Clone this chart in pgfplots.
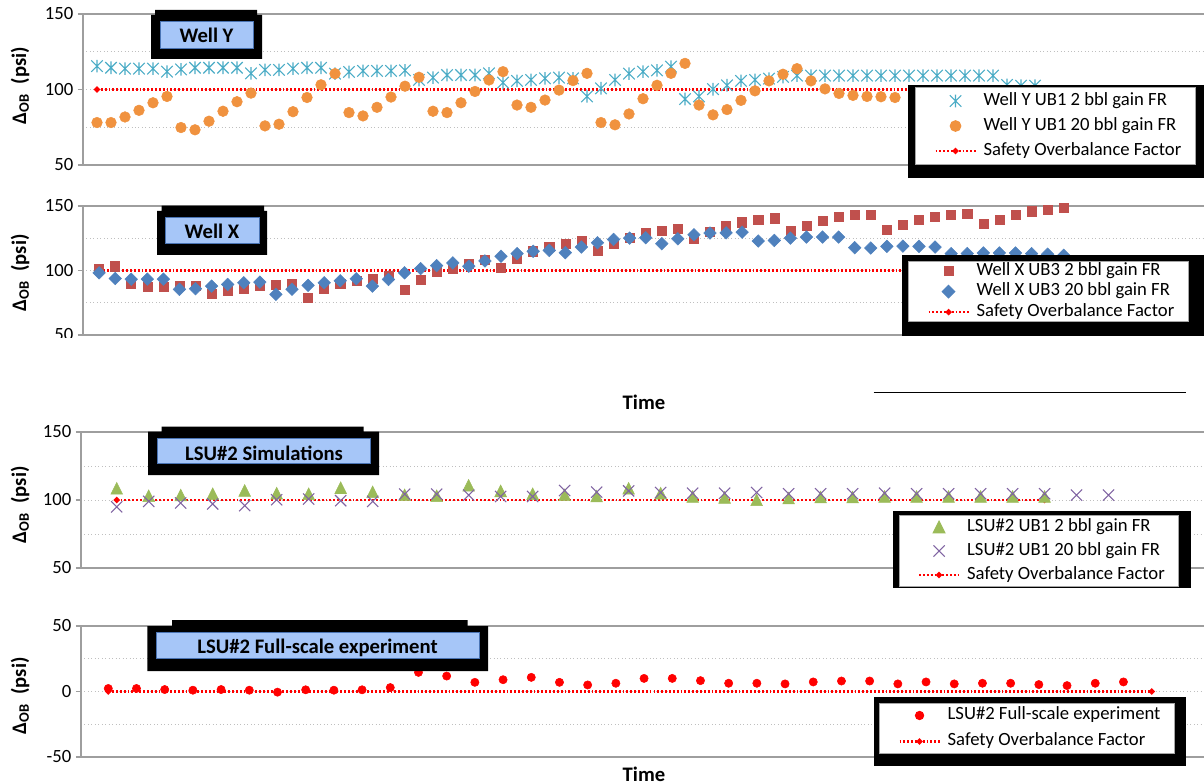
\documentclass[border=0pt]{standalone}
\usepackage{fontspec}
\setmainfont{Carlito}
\usepackage{pgfplots}
\pgfplotsset{compat=1.18}

\definecolor{cyanY}{HTML}{4BACC6}
\definecolor{orangeY}{HTML}{F0923F}
\definecolor{redX}{HTML}{C0504D}
\definecolor{blueX}{HTML}{4F81BD}
\definecolor{greenL}{HTML}{9BBB59}
\definecolor{purpleL}{HTML}{8064A2}
\definecolor{boxblue}{HTML}{A6C6F8}
\definecolor{boxedge}{HTML}{4A74B4}

% star: two diagonals and a vertical bar
\pgfdeclareplotmark{xstar}{%
  \pgfpathmoveto{\pgfqpoint{-\pgfplotmarksize}{-\pgfplotmarksize}}%
  \pgfpathlineto{\pgfqpoint{\pgfplotmarksize}{\pgfplotmarksize}}%
  \pgfpathmoveto{\pgfqpoint{-\pgfplotmarksize}{\pgfplotmarksize}}%
  \pgfpathlineto{\pgfqpoint{\pgfplotmarksize}{-\pgfplotmarksize}}%
  \pgfpathmoveto{\pgfqpoint{0pt}{-1.1\pgfplotmarksize}}%
  \pgfpathlineto{\pgfqpoint{0pt}{1.1\pgfplotmarksize}}%
  \pgfusepathqstroke}
\pgfdeclareplotmark{xcross}{%
  \pgfpathmoveto{\pgfqpoint{-\pgfplotmarksize}{-\pgfplotmarksize}}%
  \pgfpathlineto{\pgfqpoint{\pgfplotmarksize}{\pgfplotmarksize}}%
  \pgfpathmoveto{\pgfqpoint{-\pgfplotmarksize}{\pgfplotmarksize}}%
  \pgfpathlineto{\pgfqpoint{\pgfplotmarksize}{-\pgfplotmarksize}}%
  \pgfusepathqstroke}
\pgfdeclareplotmark{rhomb}{%
  \pgfpathmoveto{\pgfqpoint{0pt}{\pgfplotmarksize}}%
  \pgfpathlineto{\pgfqpoint{\pgfplotmarksize}{0pt}}%
  \pgfpathlineto{\pgfqpoint{0pt}{-\pgfplotmarksize}}%
  \pgfpathlineto{\pgfqpoint{-\pgfplotmarksize}{0pt}}%
  \pgfpathclose\pgfusepathqfillstroke}
\pgfdeclareplotmark{tri}{%
  \pgfpathmoveto{\pgfqpoint{0pt}{\pgfplotmarksize}}%
  \pgfpathlineto{\pgfqpoint{\pgfplotmarksize}{-\pgfplotmarksize}}%
  \pgfpathlineto{\pgfqpoint{-\pgfplotmarksize}{-\pgfplotmarksize}}%
  \pgfpathclose\pgfusepathqfillstroke}

\tikzset{
  safety/.style={color=red, line width=1.6pt, dash pattern=on 1.4pt off 1.5pt,
    mark=*, mark size=1.4pt, mark options={solid}},
  cyanstar/.style={only marks, mark=xstar, mark size=4.3pt, color=cyanY, line width=0.8pt},
  orangedot/.style={only marks, mark=*, mark size=4pt, color=orangeY},
  redsq/.style={only marks, mark=square*, mark size=3.4pt, color=redX},
  bluedia/.style={only marks, mark=rhomb, mark size=4.7pt, color=blueX},
  greentri/.style={only marks, mark=tri, mark size=4.4pt, color=greenL},
  purplex/.style={only marks, mark=xcross, mark size=4.2pt, color=purpleL, line width=0.8pt},
}

\newcommand\titlefont{\fontsize{15.5}{18}\selectfont\bfseries}

\pgfplotsset{
  panel/.style={
    scale only axis, anchor=south west, clip=false, clip marker paths=true,
    axis line style={draw=black!38, line width=1.1pt},
    xtick=\empty,
    ytick pos=left, tick align=outside,
    major tick length=3.75pt, minor tick length=0pt,
    tick style={draw=black!38, line width=0.9pt},
    minor y tick num=1,
    ymajorgrids, yminorgrids,
    major grid style={draw=black!25, line width=0.6pt, dotted},
    minor grid style={draw=black!25, line width=0.6pt, dotted},
    tick label style={font=\fontsize{14}{16}\selectfont},
    /pgf/number format/assume math mode=true,
    ylabel={Δ\textsubscript{OB}\ \ (psi)},
    ylabel style={font=\titlefont, anchor=center},
    legend cell align=left,
    legend style={anchor=north west, font=\fontsize{14}{16}\selectfont,
      draw=black!35, line width=0.75pt, fill=white,
      inner xsep=10.5pt, column sep=5.25pt,
      nodes={inner sep=0pt, text height=9.5pt, text depth=3pt}},
    legend image code/.code={%
      \path (-3.75pt,0pt) (30pt,0pt);
      \draw[mark repeat=2,mark phase=2,##1] plot coordinates {(0pt,0pt) (15pt,0pt) (30pt,0pt)};},
  },
}

\begin{document}
\begin{tikzpicture}
\useasboundingbox (0pt,0pt) rectangle (903pt,-588pt);

% ---------------- Well Y ----------------
\begin{axis}[panel, at={(62.25pt,-123.75pt)}, width=845.25pt, height=113.25pt,
  xmin=0, xmax=80.5, ymin=50, ymax=150, ytick={50,100,150},
  ylabel style={at={(axis description cs:-0.0559,0.526)}},
  legend style={at={(0.7382,0.5166)}, row sep=6.25pt, inner ysep=3.9pt}]
\addplot[safety, mark indices={1}, forget plot] coordinates {(1,100) (80,100)};
\addplot[cyanstar] coordinates {
 (1,115.5) (2,114.4) (3,113.8) (4,113.8) (5,113.8) (6,111.8) (7,113.3) (8,114.4)
 (9,114.4) (10,114.4) (11,114.4) (12,110.7) (13,113.0) (14,113.0) (15,113.8) (16,114.4)
 (17,114.4) (18,110.5) (19,111.6) (20,112.3) (21,112.3) (22,112.3) (23,112.7) (24,106.3)
 (25,107.9) (26,109.6) (27,109.6) (28,109.6) (29,110.7) (30,104.6) (31,105.7) (32,106.3)
 (33,107.4) (34,107.9) (35,107.4) (36,95.4) (37,100.8) (38,106.3) (39,110.5) (40,111.8)
 (41,112.7) (42,115.1) (43,93.7) (44,95.4) (45,100.2) (46,102.8) (47,105.7) (48,106.3)
 (49,107.2) (50,108.3) (51,109.2) (52,109.2) (53,109.2) (54,109.2) (55,109.2) (56,109.2)
 (57,109.2) (58,109.2) (59,109.2) (60,109.2) (61,109.2) (62,109.2) (63,109.2) (64,109.2)
 (65,109.2) (66,103.0) (67,102.5) (68,102.5)};
\addlegendentry{Well Y UB1 2 bbl gain FR}
\addplot[orangedot] coordinates {
 (1,78.1) (2,78.1) (3,81.8) (4,86.2) (5,91.2) (6,95.4) (7,74.8) (8,73.3)
 (9,79.0) (10,85.6) (11,91.9) (12,97.6) (13,75.9) (14,77.0) (15,85.3) (16,94.7)
 (17,103.1) (18,110.5) (19,84.7) (20,82.5) (21,88.2) (22,95.0) (23,102.2) (24,108.1)
 (25,85.6) (26,84.7) (27,91.2) (28,98.7) (29,106.3) (30,111.8) (31,89.7) (32,88.2)
 (33,93.0) (34,99.6) (35,105.9) (36,110.7) (37,78.1) (38,76.6) (39,83.8) (40,93.9)
 (41,102.8) (42,110.7) (43,117.3) (44,89.7) (45,83.2) (46,86.7) (47,92.8) (48,99.1)
 (49,105.7) (50,110.1) (51,113.8) (52,105.7) (53,100.4) (54,97.4) (55,96.1) (56,95.4)
 (57,95.2) (58,94.7)};
\addlegendentry{Well Y UB1 20 bbl gain FR}
\addlegendimage{safety}
\addlegendentry{Safety Overbalance Factor}
\fill[black] (rel axis cs:0.7320,-0.0861) rectangle (rel axis cs:1.01,0.5298);
\end{axis}

% ---------------- Well X ----------------
\begin{axis}[panel, at={(62.25pt,-251.25pt)}, width=845.25pt, height=96.75pt,
  xmin=0, xmax=70.1, ymin=50, ymax=150, ytick={50,100,150},
  ylabel style={at={(axis description cs:-0.0559,0.4806)}},
  legend style={at={(0.7320,0.5736)}, row sep=2.9pt, inner ysep=0.9pt}]
\addplot[safety, mark indices={1}, forget plot] coordinates {(1,100) (69,100)};
\addplot[redsq] coordinates {
 (1,101.5) (2,103.3) (3,90.0) (4,87.4) (5,87.4) (6,88.0) (7,88.0) (8,81.8)
 (9,84.4) (10,86.2) (11,88.0) (12,89.2) (13,89.5) (14,79.2) (15,86.2) (16,90.0)
 (17,92.0) (18,93.8) (19,95.6) (20,84.9) (21,93.1) (22,99.0) (23,101.5) (24,105.4)
 (25,108.0) (26,102.3) (27,109.2) (28,114.9) (29,118.7) (30,120.8) (31,122.8) (32,115.6)
 (33,120.8) (34,125.1) (35,129.0) (36,130.5) (37,132.3) (38,124.6) (39,130.3) (40,134.9)
 (41,137.4) (42,139.5) (43,140.5) (44,131.0) (45,134.9) (46,138.2) (47,141.8) (48,143.3)
 (49,143.3) (50,131.8) (51,135.4) (52,139.2) (53,141.3) (54,143.3) (55,143.8) (56,136.2)
 (57,139.2) (58,143.3) (59,145.9) (60,147.2) (61,148.5)};
\addlegendentry{Well X UB3 2 bbl gain FR}
\addplot[bluedia] coordinates {
 (1,98.2) (2,93.8) (3,93.3) (4,93.3) (5,93.3) (6,85.4) (7,85.9) (8,87.9)
 (9,89.2) (10,90.5) (11,91.0) (12,81.5) (13,85.4) (14,88.5) (15,90.5) (16,92.0)
 (17,93.6) (18,87.9) (19,93.1) (20,98.2) (21,101.5) (22,103.8) (23,105.9) (24,103.3)
 (25,107.4) (26,111.0) (27,113.1) (28,114.9) (29,115.6) (30,113.8) (31,118.2) (32,121.5)
 (33,124.1) (34,125.1) (35,125.4) (36,120.8) (37,124.6) (38,127.7) (39,129.0) (40,129.2)
 (41,129.7) (42,122.8) (43,123.3) (44,125.1) (45,125.9) (46,125.9) (47,125.9) (48,117.7)
 (49,117.4) (50,118.7) (51,118.9) (52,118.7) (53,118.2) (54,113.1) (55,113.1) (56,113.6)
 (57,113.6) (58,113.6) (59,113.1) (60,112.6) (61,111.8)};
\addlegendentry{Well X UB3 20 bbl gain FR}
\addlegendimage{safety}
\addlegendentry{Safety Overbalance Factor}
\fill[black] (rel axis cs:0.7267,-0.0078) rectangle (rel axis cs:1.01,0.6202);
\end{axis}

% ---------------- LSU#2 simulations ----------------
\begin{axis}[panel, at={(60.75pt,-426pt)}, width=846.75pt, height=102pt,
  xmin=-0.116, xmax=35.17, ymin=50, ymax=150, ytick={50,100,150},
  ylabel style={at={(axis description cs:-0.054,0.463)}},
  legend style={at={(0.7241,0.3897)}, row sep=5.5pt, inner ysep=2.4pt}]
\addplot[safety, forget plot] coordinates {(1,100) (30,100)};
\addplot[greentri] coordinates {
 (1,108.6) (2,103.1) (3,103.6) (4,104.6) (5,107.0) (6,105.0) (7,104.6) (8,109.1)
 (9,106.0) (10,103.8) (11,103.1) (12,110.8) (13,106.7) (14,104.6) (15,103.8) (16,102.9)
 (17,108.6) (18,105.0) (19,102.6) (20,101.9) (21,100.2) (22,101.4) (23,102.2) (24,102.2)
 (25,102.6) (26,102.6) (27,102.6) (28,102.6) (29,102.6) (30,102.6)};
\addlegendentry{LSU\#2 UB1 2 bbl gain FR}
\addplot[purplex] coordinates {
 (1,95.0) (2,99.0) (3,97.8) (4,97.1) (5,95.9) (6,100.2) (7,100.7) (8,99.5)
 (9,99.0) (10,104.3) (11,104.3) (12,103.6) (13,102.6) (14,102.6) (15,107.0) (16,105.8)
 (17,106.7) (18,105.5) (19,105.0) (20,105.0) (21,105.5) (22,104.6) (23,104.6) (24,104.6)
 (25,105.0) (26,104.6) (27,104.6) (28,104.6) (29,104.6) (30,104.6) (31,103.6) (32,103.6)};
\addlegendentry{LSU\#2 UB1 20 bbl gain FR}
\addlegendimage{safety}
\addlegendentry{Safety Overbalance Factor}
\fill[black] (rel axis cs:0.7190,-0.1493) rectangle (rel axis cs:0.9834,0.4213);
\end{axis}

% ---------------- LSU#2 full-scale experiment ----------------
\begin{axis}[panel, at={(60.75pt,-567.75pt)}, width=846.75pt, height=98.25pt,
  xmin=0.032, xmax=40.07, ymin=-50, ymax=50, ytick={-50,0,50},
  ylabel style={at={(axis description cs:-0.054,0.466)}},
  legend style={at={(0.7068,0.4122)}, row sep=7pt, inner ysep=2.75pt}]
\addplot[safety, forget plot] coordinates {(1,0) (38,0)};
\addplot[only marks, mark=*, mark size=3.1pt, color=red] coordinates {
 (1,2.3) (2,2.3) (3,1.5) (4,1.0) (5,1.5) (6,1.0) (7,-0.5) (8,1.3)
 (9,1.0) (10,1.3) (11,3.0) (12,14.6) (13,11.8) (14,7.0) (15,9.0) (16,10.8)
 (17,7.0) (18,5.0) (19,6.3) (20,10.0) (21,10.0) (22,8.3) (23,6.3) (24,6.3)
 (25,5.8) (26,7.3) (27,8.0) (28,8.0) (29,5.8) (30,7.3) (31,5.8) (32,6.3)
 (33,6.3) (34,5.3) (35,4.5) (36,6.3) (37,7.3)};
\addlegendentry{LSU\#2 Full-scale experiment}
\addlegendimage{safety}
\addlegendentry{Safety Overbalance Factor}
\fill[black] (rel axis cs:0.7020,-0.0687) rectangle (rel axis cs:0.9783,0.4580);
\end{axis}

% ---------------- annotations (pixel grid, y downwards) ----------------
\begin{scope}[x=0.75pt, y=-0.75pt]
  % lower half of the clipped "50" label under the Well X panel
  \fill[white] (25,338.5) rectangle (80,365);
  % title boxes
  \fill[black] (155,10) rectangle (257,16) (151,15) rectangle (262,59);
  \filldraw[fill=boxblue, draw=boxedge, line width=0.75pt] (160,21.7) rectangle (253,48.3);
  \node[font=\titlefont, anchor=base, inner sep=0pt] at (206.5,42.7) {Well Y};

  \fill[black] (161.5,205.7) rectangle (264,212) (157,211) rectangle (267,255);
  \filldraw[fill=boxblue, draw=boxedge, line width=0.75pt] (165,218) rectangle (259,244);
  \node[font=\titlefont, anchor=base, inner sep=0pt] at (212,238.3) {Well X};

  \fill[black] (161.5,426.7) rectangle (363.6,432.5) (148,431.7) rectangle (379,475);
  \filldraw[fill=boxblue, draw=boxedge, line width=0.75pt] (157,439) rectangle (370.5,463);
  \node[font=\titlefont, anchor=base, inner sep=0pt] at (264,460) {LSU\#2 Simulations};

  \fill[black] (172,620) rectangle (467.7,627) (147.3,626) rectangle (488,671);
  \filldraw[fill=boxblue, draw=boxedge, line width=0.75pt] (156,632.7) rectangle (479,658.3);
  \node[font=\titlefont, anchor=base, inner sep=0pt] at (317.5,653) {LSU\#2 Full-scale experiment};

  % axis titles and rule
  \node[font=\titlefont, anchor=base, inner sep=0pt] at (644,410) {Time};
  \node[font=\titlefont, anchor=base, inner sep=0pt] at (644,781) {Time};
  \draw[line width=1pt] (873.5,392.7) -- (1185.5,392.7);
\end{scope}
\end{tikzpicture}
\end{document}
